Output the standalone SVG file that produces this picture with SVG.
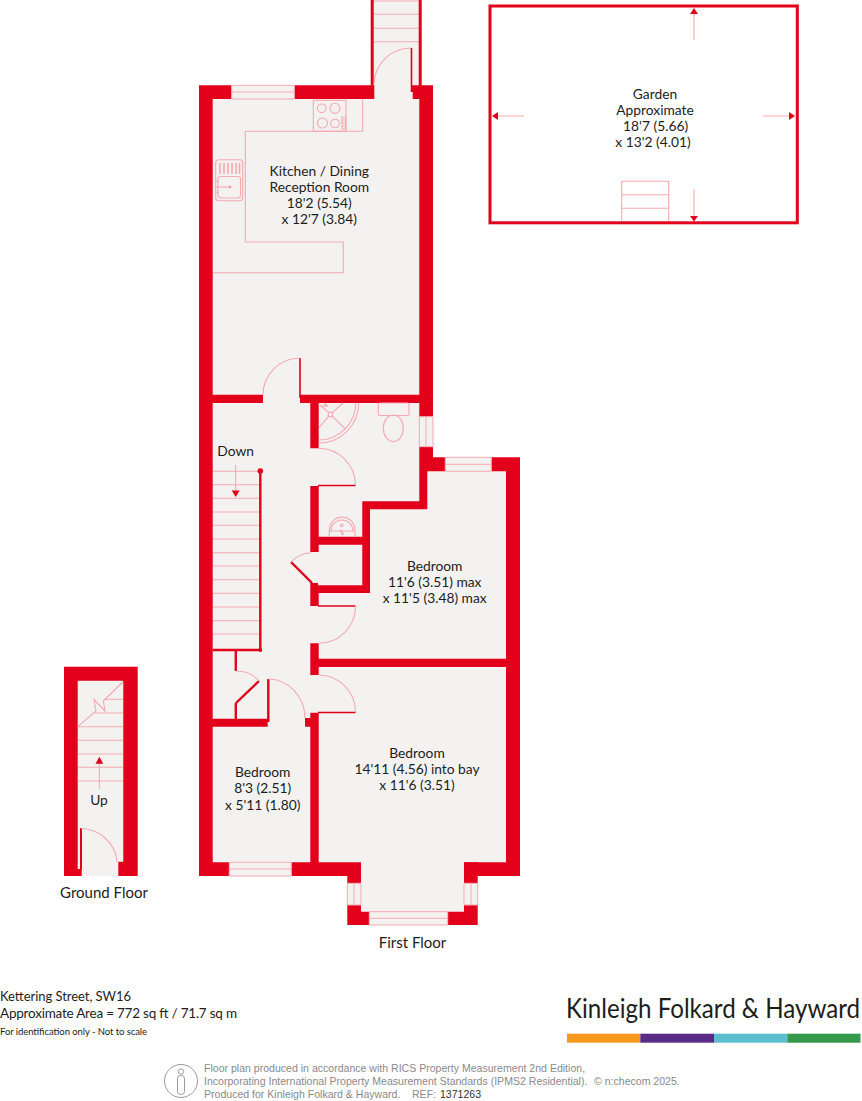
<svg xmlns="http://www.w3.org/2000/svg" width="862" height="1101" viewBox="0 0 862 1101">
<defs>
<style>
text{font-family:Lato,"Noto Sans","Open Sans",sans-serif;fill:#1d1d1b;font-size:13.8px;text-anchor:middle}
.floor{fill:#f3f2f1}
.wall{fill:#e2001a}
.ln{fill:none;stroke:#f5a9b0;stroke-width:1.1}
.red{fill:none;stroke:#e2001a;stroke-width:1.6}
.thick{fill:none;stroke:#e2001a;stroke-width:2.4}
.win{fill:#f3f2f1;stroke:#f5a9b0;stroke-width:1}
.foot{font-family:"Liberation Sans",Arial,sans-serif;font-size:10.55px;fill:#8a8a8a;text-anchor:start}
.left{text-anchor:start}
</style>
</defs>
<rect width="862" height="1101" fill="#fff"/>

<g id="first-floor-base">
<path class="floor" d="M205 92H373V0H419V92H426V464H513V869H471V918H354V869H205Z"/>
</g>

<g id="rear-stairs">
<path class="ln" d="M374 1H419M374 14.3H419M374 28.3H419M374 41.7H419"/>
<rect class="wall" x="370.7" y="0" width="3" height="86"/>
<rect class="wall" x="418.7" y="0" width="3" height="86"/>
<path class="ln" d="M374 85A37 37 0 0 1 411 48"/>
<rect class="wall" x="410.7" y="48" width="1.6" height="44"/>
</g>

<g id="kitchen-dining">
<path class="ln" d="M362.7 99V131.3H245.3V242H343.3V272.7H212.7"/>
<g id="hob">
<rect class="ln" x="313.3" y="100.3" width="32.7" height="31"/>
<circle class="ln" cx="321.7" cy="108.3" r="4.3"/><circle class="ln" cx="335" cy="108.3" r="5"/>
<circle class="ln" cx="322.5" cy="123" r="5"/><circle class="ln" cx="335" cy="123.5" r="4.3"/>
<path class="ln" d="M342 117H345.5V129H342ZM342 120H345.5M342 123H345.5M342 126H345.5"/>
</g>
<g id="sink">
<rect class="ln" x="215.7" y="159.7" width="27" height="41" rx="3"/>
<rect class="ln" x="218" y="176.5" width="22.5" height="21.5" rx="2.5"/>
<path class="ln" style="stroke-width:1.6" d="M220 163V174M224 163V174M228 163V174M232 163V174M236 163V174M239.5 163V174"/>
<path class="ln" d="M217.5 187H230"/>
<path fill="#f5808c" d="M229 185.5L232 187L229 188.5Z"/>
<circle fill="#f5a9b0" cx="217.5" cy="181.5" r="1.1"/><circle fill="#f5a9b0" cx="217.5" cy="187" r="1.1"/><circle fill="#f5a9b0" cx="217.5" cy="192.5" r="1.1"/>
</g>
<text x="319.3" y="176">Kitchen / Dining</text>
<text x="319.3" y="192">Reception Room</text>
<text x="319.3" y="208">18'2 (5.54)</text>
<text x="319.3" y="224">x 12'7 (3.84)</text>
</g>

<g id="hall-stairs">
<path class="ln" d="M212.7 471.3H260M212.7 484.7H260M212.7 498.3H260M212.7 512H260M212.7 525.3H260M212.7 539H260M212.7 552.7H260M212.7 566H260M212.7 579.7H260M212.7 593.3H260M212.7 607H260M212.7 620.7H260M212.7 634H260"/>
<path class="ln" d="M235.7 465V491"/>
<path class="wall" d="M231.7 490.5H239.7L235.7 497Z"/>
<path class="thick" d="M260.3 471V650M212.7 650H260.3"/>
<circle class="wall" cx="260.3" cy="471" r="2.8"/><circle class="wall" cx="260.3" cy="650" r="2"/>
<text x="235.7" y="456">Down</text>
</g>

<g id="walls">
<path class="wall" d="M199 85.3H231.7V99H212.7V394.7H263V403H212.7V718.7H267.7V726.7H212.7V862.3H229.3V876H199Z"/>
<path class="wall" d="M294.3 85.3H374.3V99H294.3Z"/>
<path class="wall" d="M411.7 85.3H433V416.7H419.3V403H318.7V448.3H310.3V403H300V394.7H419.3V99H412.7V92H411.7Z"/>
<path class="wall" d="M419.3 446.7H433V457.3H445.3V471.3H427.3V509.3H370V593H318.7V606H310.3V583L312 583H318V585.3H362.3V544.7H318.7V552H310.3V486H318.7V536.7H362.3V501.3H419.3Z"/>
<path class="wall" d="M491.3 457.3H520V876H464V862.3H506V667H318.7V675H310.3V643.3H318.7V658.7H506V471.3H491.3Z"/>
<path class="wall" d="M310.3 712.7H318.7V862.3H361V883.3H347.3V876H291.3V862.3H310.3V726.7H305V718H310.3Z"/>
<path class="wall" d="M464 862.3H477.7V883.3H464Z"/>
<path class="wall" d="M347.3 905H361V911.7H369.3V925H347.3Z"/>
<path class="wall" d="M464 905H477.7V925H447.7V911.7H464Z"/>
</g>

<g id="thin-walls-doors">
<path class="thick" d="M268.3 679V722M235.8 650V671M235.8 703V720"/>
<path class="thick" d="M259 681L236 703"/>
<path class="thick" d="M291 562L312 583"/>
<path class="red" d="M300 358V398M318 485.5H355.5M318 606H355.5M318 712.5H355.5"/>
<path class="ln" d="M263 395A37 37 0 0 1 300 358"/>
<path class="ln" d="M318.7 448.3A37 37 0 0 1 355.5 485"/>
<path class="ln" d="M355.5 606A37 37 0 0 1 318.7 643.3"/>
<path class="ln" d="M318.7 675A37 37 0 0 1 355.5 712"/>
<path class="ln" d="M268.3 679A37 39 0 0 1 305 718"/>
<path class="ln" d="M311 552.7A30 30 0 0 0 291 562"/>
<path class="ln" d="M236 671A30 30 0 0 1 259 681"/>
</g>

<g id="shower">
<path class="ln" d="M318.7 440A37 37 0 0 0 355.7 403"/>
<path class="ln" d="M318.7 443A40 40 0 0 0 358.7 403"/>
<path class="ln" d="M320 405L328.7 412.7M332 416L345.7 429.3M328.7 416.2L319.3 427.3M332 412.8L343 403"/>
<circle class="ln" cx="330.4" cy="414.4" r="2.3"/>
<path class="ln" d="M323.5 406L325.5 403.6L327.5 406Z"/>
</g>
<g id="wc">
<rect class="ln" x="378.3" y="403" width="30.7" height="12.5" rx="1.5"/>
<ellipse class="ln" cx="393.3" cy="428.3" rx="10" ry="13.3"/>
</g>
<g id="basin">
<path class="ln" d="M329.3 536.7V530A12.8 12.8 0 0 1 355 530V536.7"/>
<path class="ln" d="M331 531A11 11 0 0 1 353 531M329.3 531H355"/>
<circle class="ln" cx="341.7" cy="525.3" r="1.3"/>
<path class="ln" style="stroke-width:1.8" d="M340.5 530L343.2 535"/>
</g>

<g id="windows">
<path class="win" d="M231.7 85.3H294.3V99H231.7ZM231.7 92H294.3"/>
<path class="win" d="M419.3 416.7H433V446.7H419.3ZM426 416.7V446.7"/>
<path class="win" d="M445.3 457.3H491.3V471.3H445.3ZM445.3 464.3H491.3"/>
<path class="win" d="M229.3 862.3H291.3V876H229.3ZM229.3 869H291.3"/>
<path class="win" d="M347.3 883.3H361V905H347.3ZM354 883.3V905"/>
<path class="win" d="M464 883.3H477.7V905H464ZM471 883.3V905"/>
<path class="win" d="M369.3 911.7H447.7V925H369.3ZM369.3 918.3H447.7"/>
</g>

<g id="bedroom-rear">
<text x="434.7" y="570.7">Bedroom</text>
<text x="434.7" y="586.7">11'6 (3.51) max</text>
<text x="434.7" y="603.3">x 11'5 (3.48) max</text>
</g>
<g id="bedroom-front">
<text x="417" y="757.7">Bedroom</text>
<text x="417" y="773.7">14'11 (4.56) into bay</text>
<text x="417" y="789.5">x 11'6 (3.51)</text>
</g>
<g id="bedroom-small">
<text x="262.7" y="777">Bedroom</text>
<text x="262.7" y="793">8'3 (2.51)</text>
<text x="262.7" y="809.5">x 5'11 (1.80)</text>
</g>
<text id="first-floor-label" x="412.5" y="948" style="font-size:15px">First Floor</text>

<g id="ground-floor">
<rect class="floor" x="70" y="675" width="60" height="201"/>
<path class="ln" d="M77.7 699.3H123.3M77.7 713H123.3M77.7 726.7H123.3M77.7 740.3H123.3M77.7 754H123.3M77.7 767.3H123.3M77.7 781H123.3"/>
<path fill="#f3f2f1" d="M123 682L103 701L94 699.5L96 711L78 726.7V681H123Z"/>
<path class="ln" d="M123.3 681.5L103.3 701L105 711L94 699.5L96 711L77.7 726.7"/>
<path class="wall" d="M64 666.7H137.7V876H118.3V861.7H123.3V680.7H77.7V869H81.7V876H64Z"/>
<rect class="wall" x="80" y="828" width="2" height="41"/>
<path class="ln" d="M81 828.5A37 36 0 0 1 117 862"/>
<path class="ln" d="M99.3 763V789"/>
<path class="wall" d="M95.5 763.7H103.3L99.4 756.7Z"/>
<text x="99" y="805">Up</text>
<text x="104" y="898" style="font-size:15px">Ground Floor</text>
</g>

<g id="garden">
<rect x="490" y="6" width="307.3" height="216.8" fill="none" stroke="#e2001a" stroke-width="3"/>
<path class="ln" d="M621.7 221V181.3H668.7V221M621.7 194.7H668.7M621.7 208.3H668.7"/>
<path class="ln" d="M694 14V40M694 189V216M498 116H524M763 116H789"/>
<path class="wall" d="M690 14H698L694 8ZM690 216H698L694 221.5ZM498 112V120L492 116ZM789 112V120L795 116Z"/>
<text x="655" y="98.7">Garden</text>
<text x="655" y="114.7">Approximate</text>
<text x="655.6" y="131">18'7 (5.66)</text>
<text x="653" y="146.7">x 13'2 (4.01)</text>
</g>

<g id="address">
<text class="left" x="0" y="1001" style="font-size:13px" textLength="131">Kettering Street, SW16</text>
<text class="left" x="0" y="1018" style="font-size:13.5px" textLength="237">Approximate Area = 772 sq ft / 71.7 sq m</text>
<text class="left" x="0" y="1035" style="font-size:9.5px" textLength="147">For identification only - Not to scale</text>
</g>

<g id="logo">
<text class="left" x="566" y="1018" style="font-size:26px" textLength="294" lengthAdjust="spacingAndGlyphs">Kinleigh Folkard &amp; Hayward</text>
<rect x="567" y="1033.7" width="73.3" height="9" fill="#f7991c"/>
<rect x="640.3" y="1033.7" width="73.7" height="9" fill="#5b2a86"/>
<rect x="714" y="1033.7" width="73.3" height="9" fill="#5bbfcf"/>
<rect x="787.3" y="1033.7" width="73.2" height="9" fill="#34994a"/>
</g>

<g id="footer">
<circle cx="181" cy="1081" r="16.5" fill="none" stroke="#9a9a9a" stroke-width="1"/>
<circle cx="181" cy="1071.5" r="2.7" fill="none" stroke="#9a9a9a" stroke-width="1"/>
<rect x="177.5" y="1075.5" width="7" height="19" rx="3" fill="none" stroke="#9a9a9a" stroke-width="1"/>
<text class="foot" x="204" y="1072">Floor plan produced in accordance with RICS Property Measurement 2nd Edition,</text>
<text class="foot" x="204" y="1085">Incorporating International Property Measurement Standards (IPMS2 Residential).</text>
<text class="foot" x="594" y="1085">© n:checom 2025.</text>
<text class="foot" x="204" y="1098">Produced for Kinleigh Folkard &amp; Hayward.</text>
<text class="foot" x="412" y="1098">REF:</text>
<text class="foot" x="440" y="1098" style="fill:#333">1371263</text>
</g>
</svg>
